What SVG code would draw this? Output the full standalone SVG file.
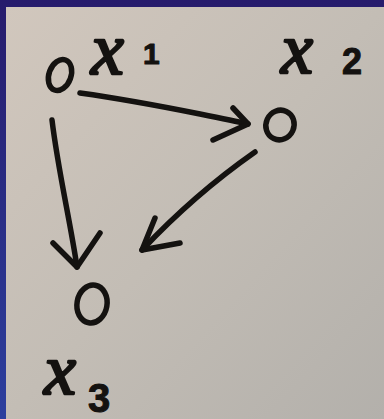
<svg xmlns="http://www.w3.org/2000/svg" width="384" height="419" viewBox="0 0 384 419">
  <defs>
    <linearGradient id="board" x1="0" y1="0" x2="0" y2="1">
      <stop offset="0" stop-color="#261b6c"/>
      <stop offset="1" stop-color="#2c3f9e"/>
    </linearGradient>
    <linearGradient id="paper" x1="0" y1="0" x2="1" y2="1">
      <stop offset="0" stop-color="#d1c7bd"/>
      <stop offset="0.5" stop-color="#c3bdb5"/>
      <stop offset="1" stop-color="#b3b0ab"/>
    </linearGradient>
    <style>
      .node { fill: none; stroke: #141210; stroke-width: 5.5; }
      .edge { fill: none; stroke: #141210; stroke-width: 5.5; stroke-linecap: round; stroke-linejoin: round; }
      .label { font-family: "Liberation Serif", "DejaVu Serif", serif; font-style: italic; font-weight: normal; fill: #141210; stroke: #141210; stroke-width: 2.5; stroke-linejoin: round; }
      .sub { font-family: "Liberation Sans", "DejaVu Sans", sans-serif; font-style: normal; font-weight: bold; stroke-width: 1; }
    </style>
  </defs>

  <!-- backdrop and sheet -->
  <rect x="0" y="0" width="384" height="419" fill="url(#board)"/>
  <rect x="6" y="7" width="378" height="412" fill="url(#paper)"/>

  <!-- connectors -->
  <g id="edges">
    <path class="edge" d="M80 93 C130 100 170 108 200 114 S235 121 248 124"/>
    <path class="edge" d="M233 108 L248 124 L213 140"/>
    <path class="edge" d="M52 120 C58 170 70 220 77 267"/>
    <path class="edge" d="M53 243 L77 267 L100 233"/>
    <path class="edge" d="M255 152 C215 180 175 215 142 250"/>
    <path class="edge" d="M155 218 L142 250 L180 243"/>
  </g>

  <!-- node x1 -->
  <g id="x1">
    <ellipse class="node" cx="60" cy="75" rx="11" ry="16" transform="rotate(20 60 75)"/>
    <text class="label" x="91" y="74" font-size="74">x<tspan class="sub" x="143" y="64" font-size="30">1</tspan></text>
  </g>

  <!-- node x2 -->
  <g id="x2">
    <ellipse class="node" cx="280" cy="125" rx="14" ry="15" transform="rotate(25 280 125)"/>
    <text class="label" x="281" y="73" font-size="72">x<tspan class="sub" x="342" y="74" font-size="36">2</tspan></text>
  </g>

  <!-- node x3 -->
  <g id="x3">
    <ellipse class="node" cx="92" cy="304" rx="15" ry="19" transform="rotate(10 92 304)"/>
    <text class="label" x="44" y="394" font-size="72">x<tspan class="sub" x="88" y="412" font-size="40">3</tspan></text>
  </g>
</svg>
